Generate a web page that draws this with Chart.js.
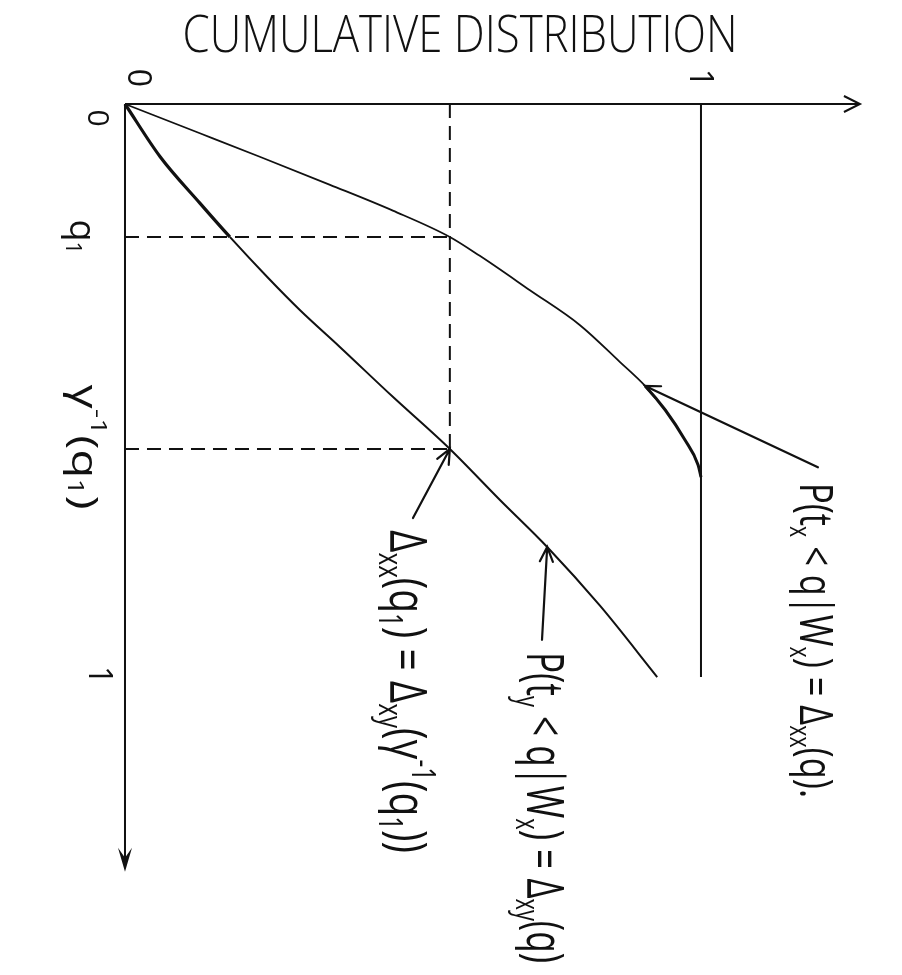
<!DOCTYPE html>
<html lang="en">
<head>
<meta charset="UTF-8">
<title>Cumulative distribution</title>
<style>
  body { margin: 0; background: #fff; }
  canvas { display: block; }
</style>
</head>
<body>
<canvas id="cdfChart" width="902" height="975"></canvas>
<script src="https://cdn.jsdelivr.net/npm/chart.js"></script>
<script>
// tick marks on the two axes
const xTickValues = [0, 1];
const xTickLabels = ['0', '1'];
const q1 = 0.232;
const gammaInvQ1 = 0.602;
const yTickValues = [0, q1, gammaInvQ1, 1];
const yTickLabels = ['0', 'q_{1}', 'γ^{-1}(q_{1})', '1'];

// P(t_x < q | W_x) = Δxx(q)
const qUpper  = [0, 0.051, 0.092, 0.141, 0.186, 0.232, 0.265, 0.325, 0.386, 0.450, 0.492, 0.534, 0.586, 0.630, 0.651];
const deltaXX = [0, 0.130, 0.234, 0.356, 0.465, 0.564, 0.616, 0.703, 0.790, 0.859, 0.903, 0.938, 0.972, 0.995, 1.000];

// P(t_y < q | W_x) = Δxy(q)
const qLower  = [0, 0.092, 0.173, 0.232, 0.302, 0.360, 0.424, 0.511, 0.602, 0.691, 0.773, 0.876, 1.000];
const deltaXY = [0, 0.061, 0.130, 0.182, 0.247, 0.304, 0.373, 0.465, 0.564, 0.651, 0.733, 0.825, 0.924];

// Δxx(q1) = Δxy(γ^-1(q1))
const deltaAtQ1 = 0.564;

const noteTexts = [
  'Δ_{xx}(q_{1}) = Δ_{xy}(γ^{-1}(q_{1}))',
  'P(t_{y} < q|W_{x}) = Δ_{xy}(q)',
  'P(t_{x} < q|W_{x}) = Δ_{xx}(q).'
];

const INK = '#111';
const FONT = '"Open Sans", "DejaVu Sans", sans-serif';

// axis window (data units) and where the axis arrows stop
const xRange = [-0.217, 1.349];
const qRange = [-0.1815, 1.520];
const axisEnd = { x: 1.276, q: 1.34 };

// where the hand lettering sits (pixels) and how long it runs
const noteLayout = [
  { x: 390, y: 530, size: 52, length: 323, tail: [0.50, 0.7225] },
  { x: 527, y: 652, size: 52, length: 311, tail: [0.724, 0.935] },
  { x: 800, y: 483, size: 46, length: 315, tail: [1.203, 0.634] }
];
const noteTips = [
  [deltaAtQ1, gammaInvQ1],
  [deltaXY[10], qLower[10]],
  [deltaXX[10], qUpper[10]]
];
const xLabelStyle = [{ dx: 12 }, { dx: -2 }];
const yLabelStyle = [
  { x: 97, dy: 14, size: 30 },
  { x: 80, dy: 0, size: 36 },
  { x: 82, dy: -2, size: 36, length: 125 },
  { x: 98, dy: -2, size: 32 }
];

const toPoints = (xs, ys) => xs.map((v, i) => ({ x: v, y: ys[i] }));

// small markup: _{...} is a subscript, ^{...} a superscript
function parseRich(str) {
  const out = [];
  const re = /([_^])\{([^}]*)\}|([^_^]+)/g;
  let m;
  while ((m = re.exec(str))) {
    if (m[3]) out.push({ t: m[3], k: '' });
    else out.push({ t: m[2], k: m[1] === '_' ? 'sub' : 'sup' });
  }
  return out;
}

function drawRich(ctx, str, x, y, o) {
  const segs = parseRich(str);
  const font = s => `${o.weight || 300} ${s}px ${FONT}`;
  let total = 0;
  segs.forEach(sg => {
    sg.size = sg.k ? o.size * 0.62 : o.size;
    ctx.font = font(sg.size);
    sg.w = ctx.measureText(sg.t).width;
    total += sg.w;
  });
  const sx = o.length ? o.length / total : 1;
  ctx.save();
  ctx.translate(x, y);
  if (o.rotate) ctx.rotate(Math.PI / 2);
  ctx.scale(sx, 1);
  ctx.textBaseline = o.baseline || 'alphabetic';
  ctx.textAlign = 'left';
  ctx.fillStyle = INK;
  let cx = o.align === 'center' ? -total / 2 : 0;
  segs.forEach(sg => {
    ctx.font = font(sg.size);
    const dy = sg.k === 'sub' ? o.size * 0.22 : sg.k === 'sup' ? -o.size * 0.42 : 0;
    ctx.fillText(sg.t, cx, dy);
    cx += sg.w;
  });
  ctx.restore();
}

function openArrow(ctx, x1, y1, x2, y2, head, width) {
  const a = Math.atan2(y2 - y1, x2 - x1);
  ctx.save();
  ctx.strokeStyle = INK;
  ctx.lineWidth = width;
  ctx.lineCap = 'round';
  ctx.beginPath();
  ctx.moveTo(x1, y1);
  ctx.lineTo(x2, y2);
  ctx.moveTo(x2 - head * Math.cos(a - 0.42), y2 - head * Math.sin(a - 0.42));
  ctx.lineTo(x2, y2);
  ctx.lineTo(x2 - head * Math.cos(a + 0.42), y2 - head * Math.sin(a + 0.42));
  ctx.stroke();
  ctx.restore();
}

const sketchPlugin = {
  id: 'sketch',
  beforeDatasetsDraw(chart) {
    const { ctx, scales: { x, y } } = chart;
    const ox = x.getPixelForValue(0), oy = y.getPixelForValue(0);
    const xe = x.getPixelForValue(axisEnd.x), ye = y.getPixelForValue(axisEnd.q);
    ctx.save();
    ctx.strokeStyle = INK;
    ctx.lineWidth = 2;
    ctx.beginPath();
    ctx.moveTo(ox, oy); ctx.lineTo(xe, oy);
    ctx.moveTo(ox, oy); ctx.lineTo(ox, ye - 8);
    ctx.stroke();
    // open head on the horizontal axis
    ctx.beginPath();
    ctx.moveTo(xe - 16, oy - 8); ctx.lineTo(xe, oy); ctx.lineTo(xe - 16, oy + 8);
    ctx.stroke();
    // filled head on the vertical axis
    ctx.fillStyle = INK;
    ctx.beginPath();
    ctx.moveTo(ox - 7, ye - 24); ctx.lineTo(ox, ye - 14); ctx.lineTo(ox + 7, ye - 24);
    ctx.lineTo(ox, ye); ctx.closePath();
    ctx.fill();
    ctx.restore();
  },
  afterDraw(chart) {
    const { ctx, scales: { x, y } } = chart;
    drawRich(ctx, 'CUMULATIVE DISTRIBUTION', 460, 52, { size: 52, length: 555, align: 'center' });

    xTickValues.forEach((v, i) => {
      drawRich(ctx, xTickLabels[i], x.getPixelForValue(v) + xLabelStyle[i].dx, 78,
        { rotate: true, size: 32, align: 'center', baseline: 'middle', weight: 400 });
    });
    yTickValues.forEach((v, i) => {
      const st = yLabelStyle[i];
      drawRich(ctx, yTickLabels[i], st.x, y.getPixelForValue(v) + st.dy,
        { rotate: true, size: st.size, length: st.length, align: 'center', baseline: 'middle', weight: 400 });
    });

    noteTexts.forEach((txt, i) => {
      const L = noteLayout[i];
      drawRich(ctx, txt, L.x, L.y, { rotate: true, size: L.size, length: L.length, weight: 400 });
      const tip = noteTips[i];
      openArrow(ctx,
        x.getPixelForValue(L.tail[0]), y.getPixelForValue(L.tail[1]),
        x.getPixelForValue(tip[0]), y.getPixelForValue(tip[1]), 16, 2.2);
    });
  }
};

const dashed = { borderColor: INK, borderWidth: 2, borderDash: [14, 8], pointRadius: 0, showLine: true };

new Chart(document.getElementById('cdfChart'), {
  type: 'scatter',
  data: {
    datasets: [
      {
        label: 'Δxx',
        data: toPoints(deltaXX, qUpper),
        showLine: true,
        borderColor: INK,
        cubicInterpolationMode: 'monotone',
        segment: { borderWidth: c => c.p0DataIndex >= 10 ? 3 : 1.8 },
        pointRadius: 0
      },
      {
        label: 'Δxy',
        data: toPoints(deltaXY, qLower),
        showLine: true,
        borderColor: INK,
        cubicInterpolationMode: 'monotone',
        segment: { borderWidth: c => c.p0DataIndex < 3 ? 3.2 : 2 },
        pointRadius: 0
      },
      {
        label: 'unit',
        data: [{ x: 1, y: 0 }, { x: 1, y: 1 }],
        showLine: true,
        borderColor: INK,
        borderWidth: 2,
        pointRadius: 0
      },
      Object.assign({ label: 'vertical guide', data: [{ x: deltaAtQ1, y: 0 }, { x: deltaAtQ1, y: gammaInvQ1 }] }, dashed),
      Object.assign({ label: 'q1 guide', data: [{ x: 0, y: q1 }, { x: deltaAtQ1, y: q1 }] }, dashed),
      Object.assign({ label: 'γ guide', data: [{ x: 0, y: gammaInvQ1 }, { x: deltaAtQ1, y: gammaInvQ1 }] }, dashed)
    ]
  },
  options: {
    responsive: false,
    animation: false,
    layout: { padding: 0 },
    plugins: { legend: { display: false }, tooltip: { enabled: false } },
    scales: {
      x: { type: 'linear', display: false, min: xRange[0], max: xRange[1] },
      y: { type: 'linear', display: false, reverse: true, min: qRange[0], max: qRange[1] }
    }
  },
  plugins: [sketchPlugin]
});
</script>
</body>
</html>
